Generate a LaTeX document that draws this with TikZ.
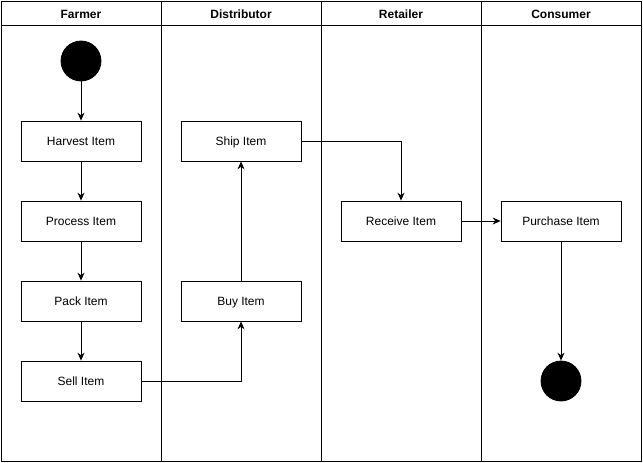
\documentclass[tikz,border=0pt]{standalone}
\usepackage{fontspec}
\setmainfont{Liberation Sans}
\usetikzlibrary{arrows.meta}
\begin{document}
\begin{tikzpicture}[x=1pt, y=-1pt, line width=0.8pt, font=\fontsize{12}{14}\selectfont,
    main/.style = {draw, minimum width=120pt, minimum height=40pt, inner sep=0pt, text height=10pt, text depth=2pt},
    dot/.style = {draw, circle, fill=black, minimum size=40pt, inner sep=0pt},
    head/.style = {font=\fontsize{12}{14}\selectfont\bfseries, text height=10pt, text depth=2pt},
    arr/.style = {-{Stealth[length=8pt, width=7pt]}}]
        \useasboundingbox (0,0) rectangle (643,463);
        % lanes
        \draw (1,1) rectangle (641,461);
        \draw (1,25) -- (641,25);
        \draw (161,1) -- (161,461);
        \draw (321,1) -- (321,461);
        \draw (481,1) -- (481,461);
        \node[head] (farmer) at (81,14) {Farmer};
        \node[head] (distributor) at (241,14) {Distributor};
        \node[head] (retailer) at (401,14) {Retailer};
        \node[head] (consumer) at (561,14) {Consumer};
        % nodes
        \node[dot] (start) at (81,61) {};
        \node[main] (harvest) at (81,141) {Harvest Item};
        \node[main] (process) at (81,221) {Process Item};
        \node[main] (pack) at (81,301) {Pack Item};
        \node[main] (sell) at (81,381) {Sell Item};
        \node[main] (buy) at (241,301) {Buy Item};
        \node[main] (ship) at (241,141) {Ship Item};
        \node[main] (receive) at (401,221) {Receive Item};
        \node[main] (purchase) at (561,221) {Purchase Item};
        \node[dot] (end) at (561,381) {};
        % edges
        \draw[arr] (start) -- (harvest);
        \draw[arr] (harvest) -- (process);
        \draw[arr] (process) -- (pack);
        \draw[arr] (pack) -- (sell);
        \draw[arr] (sell) -| (buy);
        \draw[arr] (buy) -- (ship);
        \draw[arr] (ship) -| (receive);
        \draw[arr] (receive) -- (purchase);
        \draw[arr] (purchase) -- (end);
    \end{tikzpicture}
\end{document}
